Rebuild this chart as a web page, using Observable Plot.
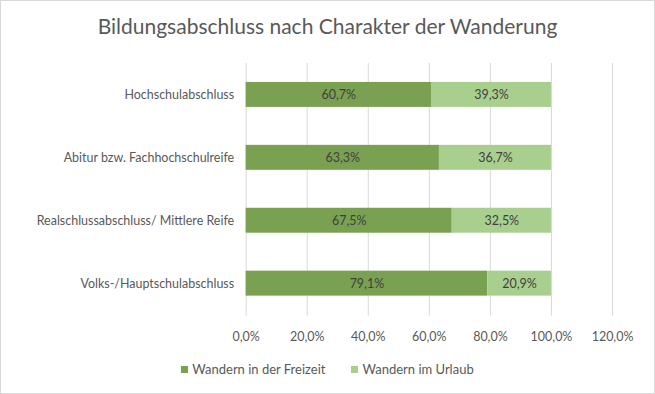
<!DOCTYPE html>
<html>
<head>
<meta charset="utf-8">
<script src="https://cdn.jsdelivr.net/npm/d3@7"></script>
<script src="https://cdn.jsdelivr.net/npm/@observablehq/plot@0.6"></script>
<style>
  html, body { margin: 0; padding: 0; background: #fff; }
  #frame { position: relative; width: 653px; height: 392px; border: 1px solid #d9d9d9; overflow: hidden; font-family: Lato, "Open Sans", sans-serif; }
  #title { position: absolute; top: 12px; left: 0; width: 100%; text-align: center; font-size: 21px; color: #595959; }
  #chart { position: absolute; top: 49px; left: -1px; }
  #legend { position: absolute; top: 360px; left: 0; width: 100%; display: flex; justify-content: center; gap: 26px; font-size: 13px; color: #595959; }
  #legend span.sw { display: inline-block; width: 7px; height: 7px; margin-right: 4px; vertical-align: 1px; }
</style>
</head>
<body>
<div id="frame">
  <div id="title">Bildungsabschluss nach Charakter der Wanderung</div>
  <div id="chart"></div>
  <div id="legend"></div>
</div>
<script>
const categories = ["Hochschulabschluss", "Abitur bzw. Fachhochschulreife", "Realschlussabschluss/ Mittlere Reife", "Volks-/Hauptschulabschluss"];
const series = ["Wandern in der Freizeit", "Wandern im Urlaub"];
const freizeit = [60.7, 63.3, 67.5, 79.1];
const urlaub = [39.3, 36.7, 32.5, 20.9];
const colors = ["#7aa052", "#a9cf8e"];
const xTicks = [0, 20, 40, 60, 80, 100, 120];

const data = [];
categories.forEach((c, i) => {
  data.push({cat: c, series: series[0], value: freizeit[i]});
  data.push({cat: c, series: series[1], value: urlaub[i]});
});

const fmt = v => v.toFixed(1).replace(".", ",") + "%";

const plot = Plot.plot({
  width: 655,
  height: 300,
  marginLeft: 246,
  marginRight: 42,
  marginTop: 13,
  marginBottom: 34,
  style: {fontFamily: "Lato, 'Open Sans', sans-serif", fontSize: "12.5px", color: "#595959", background: "transparent"},
  x: {domain: [0, 120], ticks: xTicks, tickFormat: fmt, label: null},
  y: {domain: categories, label: null, paddingInner: 0.6, paddingOuter: 0.3},
  color: {domain: series, range: colors},
  marks: [
    Plot.gridX(xTicks, {stroke: "#d9d9d9", strokeOpacity: 1, strokeWidth: 1}),
    Plot.barX(data, Plot.stackX({x: "value", y: "cat", fill: "series", z: "series"})),
    Plot.text(data, Plot.stackX({x: "value", y: "cat", z: "series", text: d => fmt(d.value), fill: "#404040", fontSize: 12.5})),
    Plot.axisX({ticks: xTicks, tickFormat: fmt, tickSize: 0, tickPadding: 16, label: null, fill: "#595959"}),
    Plot.axisY({tickSize: 0, tickPadding: 12, label: null, fill: "#595959"})
  ]
});
document.getElementById("chart").appendChild(plot);

const legend = document.getElementById("legend");
series.forEach((s, i) => {
  const item = document.createElement("div");
  item.innerHTML = `<span class="sw" style="background:${colors[i]}"></span>${s}`;
  legend.appendChild(item);
});
</script>
</body>
</html>
